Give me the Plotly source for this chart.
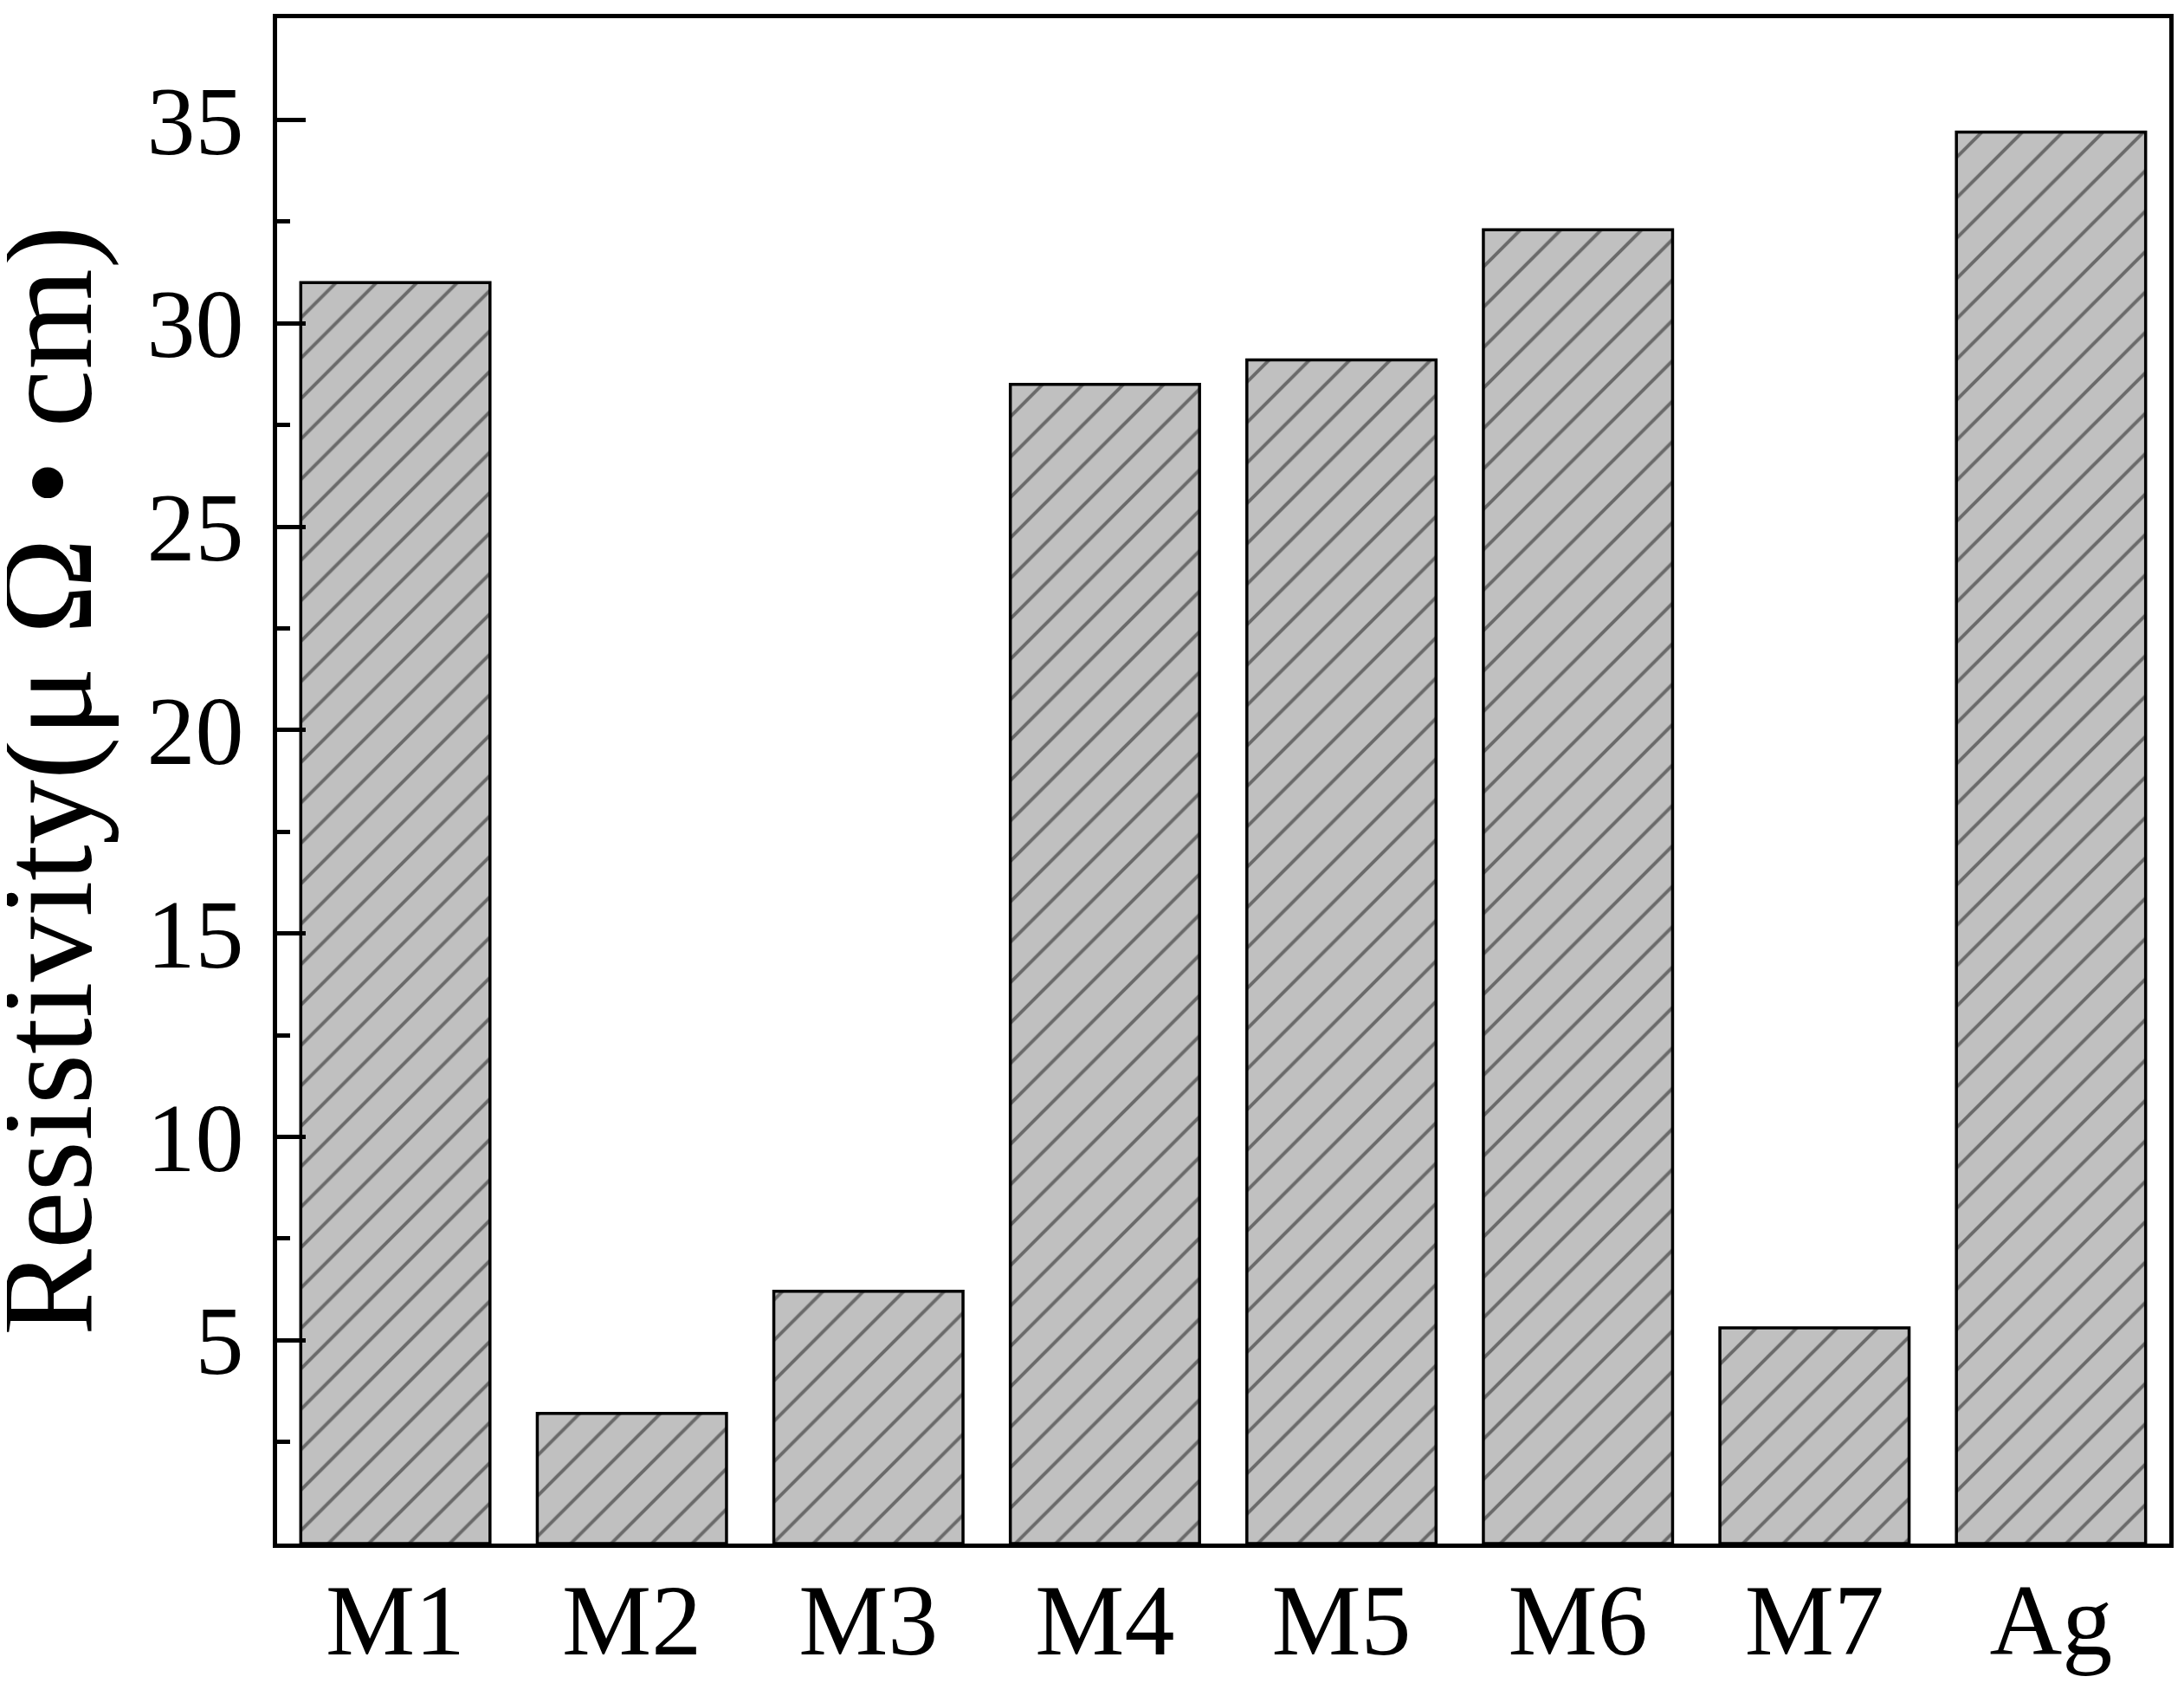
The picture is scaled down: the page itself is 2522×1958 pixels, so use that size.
import plotly.graph_objects as go

materials = ['M1', 'M2', 'M3', 'M4', 'M5', 'M6', 'M7', 'Ag']
resistivity = [31.0, 3.2, 6.2, 28.5, 29.1, 32.3, 5.3, 34.7]
major_ticks = [5, 10, 15, 20, 25, 30, 35]
minor_ticks = [2.5, 7.5, 12.5, 17.5, 22.5, 27.5, 32.5]

serif = 'Liberation Serif, Times New Roman, serif'

fig = go.Figure()
fig.add_trace(go.Bar(
    x=materials,
    y=resistivity,
    marker=dict(
        color='rgb(192, 192, 192)',
        line=dict(color='black', width=3.5),
        pattern=dict(shape='/', size=33, solidity=0.12, fgcolor='rgb(20, 20, 20)',
                     bgcolor='rgb(192, 192, 192)', fillmode='overlay'),
    ),
    width=0.8,
    showlegend=False,
))

# page body has an 8px margin, so the figure is 8px smaller than the window
fig.update_layout(
    width=2514, height=1950,
    margin=dict(l=312, r=17, t=13, b=176),
    plot_bgcolor='white',
    paper_bgcolor='white',
    font=dict(family=serif, color='black'),
)

fig.update_xaxes(
    range=[-0.5, 7.5],
    showline=True, linecolor='black', linewidth=5, mirror=True,
    ticks='', showgrid=False, zeroline=False,
    tickfont=dict(size=116, family=serif),
    ticklabelstandoff=-16,
    automargin=False,
)

fig.update_yaxes(
    range=[0, 37.5],
    tickvals=major_ticks,
    ticks='inside', ticklen=33, tickwidth=5, tickcolor='black',
    minor=dict(tickvals=minor_ticks, ticks='inside', ticklen=15, tickwidth=5, tickcolor='black'),
    showline=True, linecolor='black', linewidth=5, mirror=True,
    showgrid=False, zeroline=False,
    tickfont=dict(size=112, family=serif),
    ticklabelstandoff=11,
    automargin=False,
)

# y-axis title as rotated annotation for exact placement
fig.add_annotation(
    text='Resistivity(μ Ω • cm)',
    xref='paper', yref='paper', x=-0.1215, y=0.5,
    xanchor='center', yanchor='middle',
    textangle=-90, showarrow=False,
    font=dict(size=150, family=serif, color='black'),
)

fig.write_html("out.html")
